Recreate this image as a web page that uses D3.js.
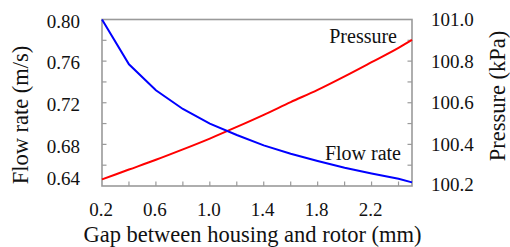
<!DOCTYPE html>
<html>
<head>
<meta charset="utf-8">
<script src="https://cdn.jsdelivr.net/npm/d3@7"></script>
<style>
  html, body { margin: 0; padding: 0; background: #fff; }
  svg { display: block; }
  text { font-family: "Liberation Serif", "DejaVu Serif", "Times New Roman", serif; }
</style>
</head>
<body>
<svg id="chart" width="510" height="247"></svg>
<script>
// Data
const gap = [0.2, 0.4, 0.6, 0.8, 1.0, 1.2, 1.4, 1.6, 1.8, 2.0, 2.2, 2.4, 2.5];
const flowRate = [0.800, 0.757, 0.732, 0.714, 0.700, 0.689, 0.679, 0.671, 0.664, 0.6575, 0.652, 0.647, 0.6435];
const pressure = [100.232, 100.279, 100.326, 100.376, 100.428, 100.484, 100.542, 100.603, 100.662, 100.727, 100.795, 100.864, 100.902];
const xTickLabels = [0.2, 0.6, 1.0, 1.4, 1.8, 2.2];
const xMinorTicks = [0.4, 0.6, 0.8, 1.0, 1.2, 1.4, 1.6, 1.8, 2.0, 2.2, 2.4];
const leftTickLabels = [0.64, 0.68, 0.72, 0.76, 0.80];
const leftMinorTicks = [0.66, 0.68, 0.70, 0.72, 0.74, 0.76, 0.78];
const rightTickLabels = [100.2, 100.4, 100.6, 100.8, 101.0];

const FONT = "'Liberation Serif', 'DejaVu Serif', 'Times New Roman', serif";
const svg = d3.select("#chart");
const L = 102, R = 412, T = 19.5, B = 186;
const axisColor = "#9a9a9a";

const x = d3.scaleLinear().domain([0.2, 2.5]).range([L, R]);
const yL = d3.scaleLinear().domain([0.64, 0.80]).range([B, T]);
const yR = d3.scaleLinear().domain([100.2, 101.0]).range([B, T]);

// frame
svg.append("rect").attr("x", L).attr("y", T).attr("width", R - L).attr("height", B - T)
  .attr("fill", "none").attr("stroke", axisColor).attr("stroke-width", 1.6);

// ticks (inward)
const tl = 4.5;
svg.append("g").selectAll("line").data(xMinorTicks).join("line")
  .attr("x1", d => x(d)).attr("x2", d => x(d)).attr("y1", B).attr("y2", B - tl)
  .attr("stroke", axisColor).attr("stroke-width", 1.2);
svg.append("g").selectAll("line").data(leftMinorTicks).join("line")
  .attr("x1", L).attr("x2", L + tl).attr("y1", d => yL(d)).attr("y2", d => yL(d))
  .attr("stroke", axisColor).attr("stroke-width", 1.2);
svg.append("g").selectAll("line").data(leftMinorTicks).join("line")
  .attr("x1", R).attr("x2", R - tl).attr("y1", d => yL(d)).attr("y2", d => yL(d))
  .attr("stroke", axisColor).attr("stroke-width", 1.2);

// tick labels
const tickFont = 19;
svg.append("g").selectAll("text").data(xTickLabels).join("text")
  .attr("x", d => x(d) - 1).attr("y", 216)
  .attr("text-anchor", "middle").attr("font-size", tickFont).attr("font-family", FONT).attr("fill", "#111")
  .text(d => d3.format(".1f")(d));
svg.append("g").selectAll("text").data(leftTickLabels).join("text")
  .attr("x", 80).attr("y", d => yL(d) + (d === 0.64 ? -8 : 1.5))
  .attr("dy", "0.35em")
  .attr("text-anchor", "end").attr("font-size", tickFont).attr("font-family", FONT).attr("fill", "#111")
  .text(d => d3.format(".2f")(d));
svg.append("g").selectAll("text").data(rightTickLabels).join("text")
  .attr("x", 431).attr("y", d => yR(d) + (d === 100.2 ? -2 : 0))
  .attr("dy", "0.35em")
  .attr("text-anchor", "start").attr("font-size", tickFont).attr("font-family", FONT).attr("fill", "#111")
  .text(d => d3.format(".1f")(d));

// lines
const pts = gap.map((g, i) => ({ g, f: flowRate[i], p: pressure[i] }));
svg.append("path").datum(pts)
  .attr("d", d3.line().x(d => x(d.g)).y(d => yR(d.p)).curve(d3.curveMonotoneX))
  .attr("fill", "none").attr("stroke", "#ff0000").attr("stroke-width", 2);
svg.append("path").datum(pts)
  .attr("d", d3.line().x(d => x(d.g)).y(d => yL(d.f)))
  .attr("fill", "none").attr("stroke", "#0000ff").attr("stroke-width", 2);

// annotations
svg.append("text").attr("x", 397).attr("y", 42.5).attr("text-anchor", "end")
  .attr("font-size", 20).attr("font-family", FONT).attr("fill", "#111").text("Pressure");
svg.append("text").attr("x", 401).attr("y", 159.5).attr("text-anchor", "end")
  .attr("font-size", 20).attr("font-family", FONT).attr("fill", "#111").text("Flow rate");

// axis titles
svg.append("text").attr("x", 252.5).attr("y", 242).attr("text-anchor", "middle")
  .attr("font-size", 22.5).attr("font-family", FONT).attr("fill", "#111").text("Gap between housing and rotor (mm)");
svg.append("text").attr("transform", "translate(28,115) rotate(-90)").attr("text-anchor", "middle")
  .attr("font-size", 22.5).attr("font-family", FONT).attr("fill", "#111").text("Flow rate (m/s)");
svg.append("text").attr("transform", "translate(505,96) rotate(-90)").attr("text-anchor", "middle")
  .attr("font-size", 22.5).attr("font-family", FONT).attr("fill", "#111").text("Pressure (kPa)");
</script>
</body>
</html>
